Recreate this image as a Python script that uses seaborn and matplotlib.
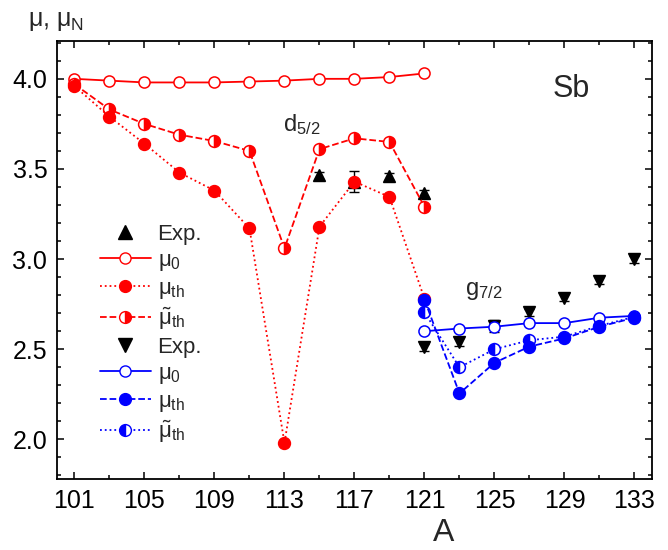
import numpy as np
import matplotlib
matplotlib.use("Agg")
import matplotlib.pyplot as plt
import seaborn as sns
from matplotlib.lines import Line2D
from matplotlib.ticker import MultipleLocator, FormatStrFormatter

# mass numbers
A_red = [101, 103, 105, 107, 109, 111, 113, 115, 117, 119, 121]
A_blue = [121, 123, 125, 127, 129, 131, 133]

# d5/2 states (red)
red_mu0 = [4.00, 3.99, 3.98, 3.98, 3.98, 3.985, 3.99, 4.00, 4.00, 4.01, 4.03]
red_mu_th = [3.96, 3.79, 3.64, 3.48, 3.38, 3.17, 1.98, 3.18, 3.43, 3.345, 2.78]
red_mu_tilde = [3.97, 3.83, 3.75, 3.69, 3.655, 3.60, 3.06, 3.61, 3.67, 3.65, 3.29]

# g7/2 states (blue)
blue_mu0 = [2.60, 2.615, 2.625, 2.645, 2.645, 2.675, 2.685]
blue_mu_th = [2.775, 2.255, 2.425, 2.515, 2.56, 2.625, 2.675]
blue_mu_tilde = [2.705, 2.40, 2.50, 2.55, 2.57, 2.63, 2.68]

# experiment
exp_up_A = [115, 117, 119, 121]
exp_up = [3.465, 3.43, 3.46, 3.365]
exp_up_err = [0.02, 0.06, 0.02, 0.02]
exp_down_A = [121, 123, 125, 127, 129, 131, 133]
exp_down = [2.51, 2.54, 2.63, 2.705, 2.785, 2.88, 3.00]
exp_down_err = [0.02, 0.02, 0.035, 0.02, 0.02, 0.02, 0.02]

sns.set_theme(style="ticks")
plt.rcParams['font.family'] = ['Liberation Sans', 'DejaVu Sans']
plt.rcParams['mathtext.fontset'] = 'custom'
plt.rcParams['mathtext.rm'] = 'Liberation Sans'
plt.rcParams['mathtext.it'] = 'Liberation Sans'
plt.rcParams['mathtext.bf'] = 'Liberation Sans:bold'

RED = '#ff0000'
BLUE = '#0000ff'

fig = plt.figure(figsize=(6.68, 5.5), dpi=100)
ax = fig.add_axes([0.0853, 0.129, 0.8907, 0.7965])

# experimental points (underneath)
ax.errorbar(exp_up_A, exp_up, yerr=exp_up_err, fmt='^', color='black', ms=9,
            capsize=3.5, elinewidth=1, capthick=1, zorder=2)
ax.errorbar(exp_down_A, exp_down, yerr=exp_down_err, fmt='v', color='black', ms=9,
            capsize=3.5, elinewidth=1, capthick=1, zorder=2)

lw = 1.3


def series(x, y, color, ls, fill, ms):
    kw = dict(x=x, y=y, ax=ax, color=color, linestyle=ls, linewidth=lw,
              marker='o', markersize=ms, markeredgecolor=color,
              markeredgewidth=1.1, sort=False, estimator=None, zorder=3)
    if fill == 'none':
        kw.update(markerfacecolor='white')
    elif fill == 'full':
        kw.update(markerfacecolor=color)
    else:
        kw.update(markerfacecolor=color, fillstyle=fill, markerfacecoloralt='white')
    sns.lineplot(**kw)


series(A_red, red_mu0, RED, '-', 'none', 8)
series(A_red, red_mu_tilde, RED, '--', 'right', 8.5)
series(A_red, red_mu_th, RED, ':', 'full', 8.5)
series(A_blue, blue_mu0, BLUE, '-', 'none', 8)
series(A_blue, blue_mu_tilde, BLUE, ':', 'left', 8.5)
series(A_blue, blue_mu_th, BLUE, '--', 'full', 8.5)

ax.set_xlim(100, 134)
ax.set_ylim(1.78, 4.21)
ax.set_xticks([101, 105, 109, 113, 117, 121, 125, 129, 133])
ax.set_xticks(np.arange(101, 134, 2), minor=True)
ax.yaxis.set_major_locator(MultipleLocator(0.5))
ax.yaxis.set_minor_locator(MultipleLocator(0.1))
ax.tick_params(which='both', direction='in', top=True, right=True, width=1.1,
               labelsize=18, colors='black')
ax.tick_params(which='major', length=5)
ax.tick_params(which='minor', length=3)
ax.tick_params(axis='x', pad=7)
ax.tick_params(axis='y', pad=7)
ax.yaxis.set_major_formatter(FormatStrFormatter('%.1f'))
for s in ax.spines.values():
    s.set_linewidth(1.3)
    s.set_color('black')

ax.set_xlabel('A', fontsize=23)
ax.xaxis.set_label_coords(0.65, -0.09)
ax.set_ylabel('')
fig.text(0.042, 0.962, r'μ, μ$_N$', fontsize=18, va='center', ha='left')

ax.text(129.4, 3.945, 'Sb', fontsize=22, ha='center', va='center')
ax.text(112.9, 3.712, r'd$_{5/2}$', fontsize=17, ha='left', va='baseline')
ax.text(123.3, 2.80, r'g$_{7/2}$', fontsize=17, ha='left', va='baseline')

handles = [
    Line2D([], [], color='black', marker='^', ms=10, ls='none'),
    Line2D([], [], color=RED, ls='-', lw=lw, marker='o', ms=8, mfc='white', mec=RED),
    Line2D([], [], color=RED, ls=':', lw=lw, marker='o', ms=8.5, mfc=RED, mec=RED),
    Line2D([], [], color=RED, ls='--', lw=lw, marker='o', ms=8.5, mfc=RED, mec=RED,
           fillstyle='right', markerfacecoloralt='white'),
    Line2D([], [], color='black', marker='v', ms=10, ls='none'),
    Line2D([], [], color=BLUE, ls='-', lw=lw, marker='o', ms=8, mfc='white', mec=BLUE),
    Line2D([], [], color=BLUE, ls='--', lw=lw, marker='o', ms=8.5, mfc=BLUE, mec=BLUE),
    Line2D([], [], color=BLUE, ls=':', lw=lw, marker='o', ms=8.5, mfc=BLUE, mec=BLUE,
           fillstyle='left', markerfacecoloralt='white'),
]
labels = ['Exp.', r'$\mu_0$', r'$\mu_{th}$', r'$\tilde{\mu}_{th}$',
          'Exp.', r'$\mu_0$', r'$\mu_{th}$', r'$\tilde{\mu}_{th}$']
leg = ax.legend(handles, labels, loc='center left', bbox_to_anchor=(0.072, 0.33),
                frameon=False, fontsize=16, handlelength=2.3, handletextpad=0.3,
                labelspacing=0.22, borderpad=0, borderaxespad=0)

fig.savefig('out.png', dpi=100)
